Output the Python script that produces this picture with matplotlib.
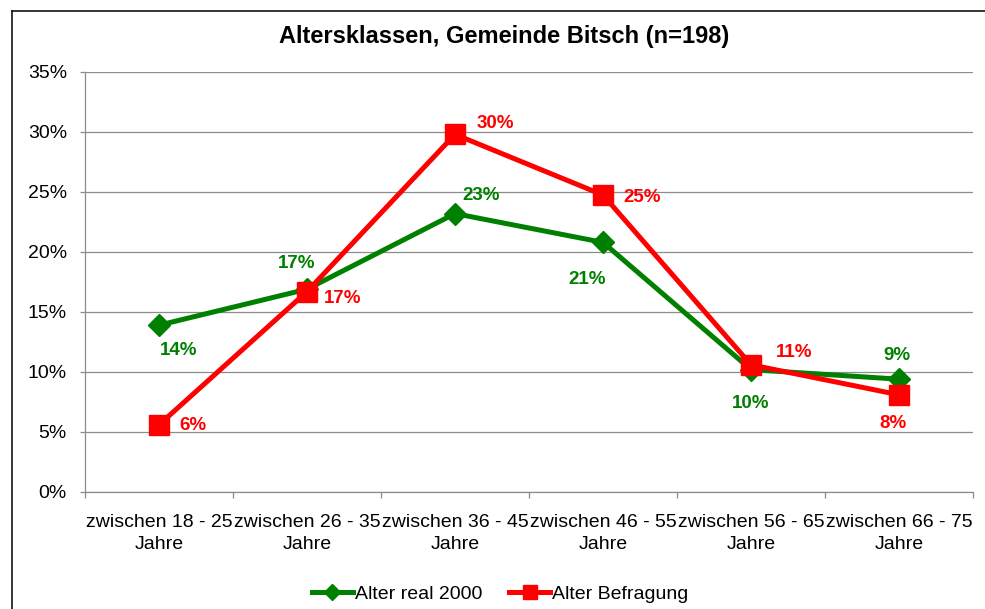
import matplotlib
matplotlib.use("Agg")
import matplotlib.pyplot as plt
from matplotlib.lines import Line2D
from matplotlib.ticker import PercentFormatter, FixedLocator

plt.rcParams['font.family'] = ['Liberation Sans', 'DejaVu Sans']

categories = ["zwischen 18 - 25\nJahre", "zwischen 26 - 35\nJahre", "zwischen 36 - 45\nJahre",
              "zwischen 46 - 55\nJahre", "zwischen 56 - 65\nJahre", "zwischen 66 - 75\nJahre"]
real_2000 = [13.9, 16.9, 23.2, 20.8, 10.2, 9.4]
befragung = [5.6, 16.7, 29.8, 24.75, 10.6, 8.1]
y_ticks = [0, 5, 10, 15, 20, 25, 30, 35]

# label offsets in pixels (dx right, dy up)
green_off = [(20, -25), (-10, 26), (26, 18), (-16, -37), (0, -34), (-2, 24)]
red_off = [(34, -1), (36, -7), (40, 11), (39, -2), (43, 12), (-6, -29)]

GREEN = '#008000'
RED = '#FF0000'
GRAY = '#8C8C8C'

W, H = 985, 609
fig = plt.figure(figsize=(W / 100, H / 100), dpi=100)
ax = fig.add_axes([85 / W, 117 / H, 888 / W, 420 / H])

x = list(range(len(categories)))
ax.plot(x, real_2000, color=GREEN, lw=3.6, marker='D', markersize=11,
        markeredgewidth=1, markeredgecolor=GREEN, label='Alter real 2000', zorder=3)
ax.plot(x, befragung, color=RED, lw=3.6, marker='s', markersize=14,
        markeredgewidth=1, markeredgecolor=RED, label='Alter Befragung', zorder=4)

for xi, v, (dx, dy) in zip(x, real_2000, green_off):
    ax.annotate(f"{v:.0f}%", (xi, v), xytext=(dx, dy), textcoords='offset pixels',
                ha='center', va='center', color=GREEN, fontsize=13.5, fontweight='bold', zorder=5)
for xi, v, (dx, dy) in zip(x, befragung, red_off):
    ax.annotate(f"{v:.0f}%", (xi, v), xytext=(dx, dy), textcoords='offset pixels',
                ha='center', va='center', color=RED, fontsize=13.5, fontweight='bold', zorder=5)

ax.set_xlim(-0.5, len(categories) - 0.5)
ax.set_ylim(0, 35)
ax.set_yticks(y_ticks)
ax.yaxis.set_major_formatter(PercentFormatter(decimals=0))
ax.set_xticks(x)
ax.set_xticklabels(categories, fontsize=14, linespacing=1.45)
ax.xaxis.set_minor_locator(FixedLocator([i - 0.5 for i in range(len(categories) + 1)]))
ax.tick_params(axis='x', which='major', length=0, pad=15.5)
ax.tick_params(axis='x', which='minor', length=4.3, color=GRAY, width=0.9)
ax.tick_params(axis='y', length=3.6, color=GRAY, width=0.9, pad=9.4, labelsize=14)

ax.grid(axis='y', color=GRAY, lw=0.9)
ax.set_axisbelow(True)
for s in ['top', 'right']:
    ax.spines[s].set_visible(False)
for s in ['left', 'bottom']:
    ax.spines[s].set_color(GRAY)
    ax.spines[s].set_linewidth(0.9)

fig.text(504 / W, 1 - 36 / H, "Altersklassen, Gemeinde Bitsch (n=198)", ha='center', va='center',
         fontsize=17, fontweight='bold')

fig.legend(loc='center', bbox_to_anchor=(500 / W, 1 - 594 / H), ncol=2, frameon=False,
           fontsize=14, handlelength=2.1, handletextpad=0.1, columnspacing=1.4, markerscale=0.75)

# chart frame (left and top edges visible)
fig.add_artist(Line2D([12 / W, 12 / W], [0, 1 - 11 / H], color='black', lw=1.1,
                      transform=fig.transFigure))
fig.add_artist(Line2D([12 / W, 1], [1 - 11 / H, 1 - 11 / H], color='black', lw=1.1,
                      transform=fig.transFigure))

fig.savefig("out.png", dpi=100)
